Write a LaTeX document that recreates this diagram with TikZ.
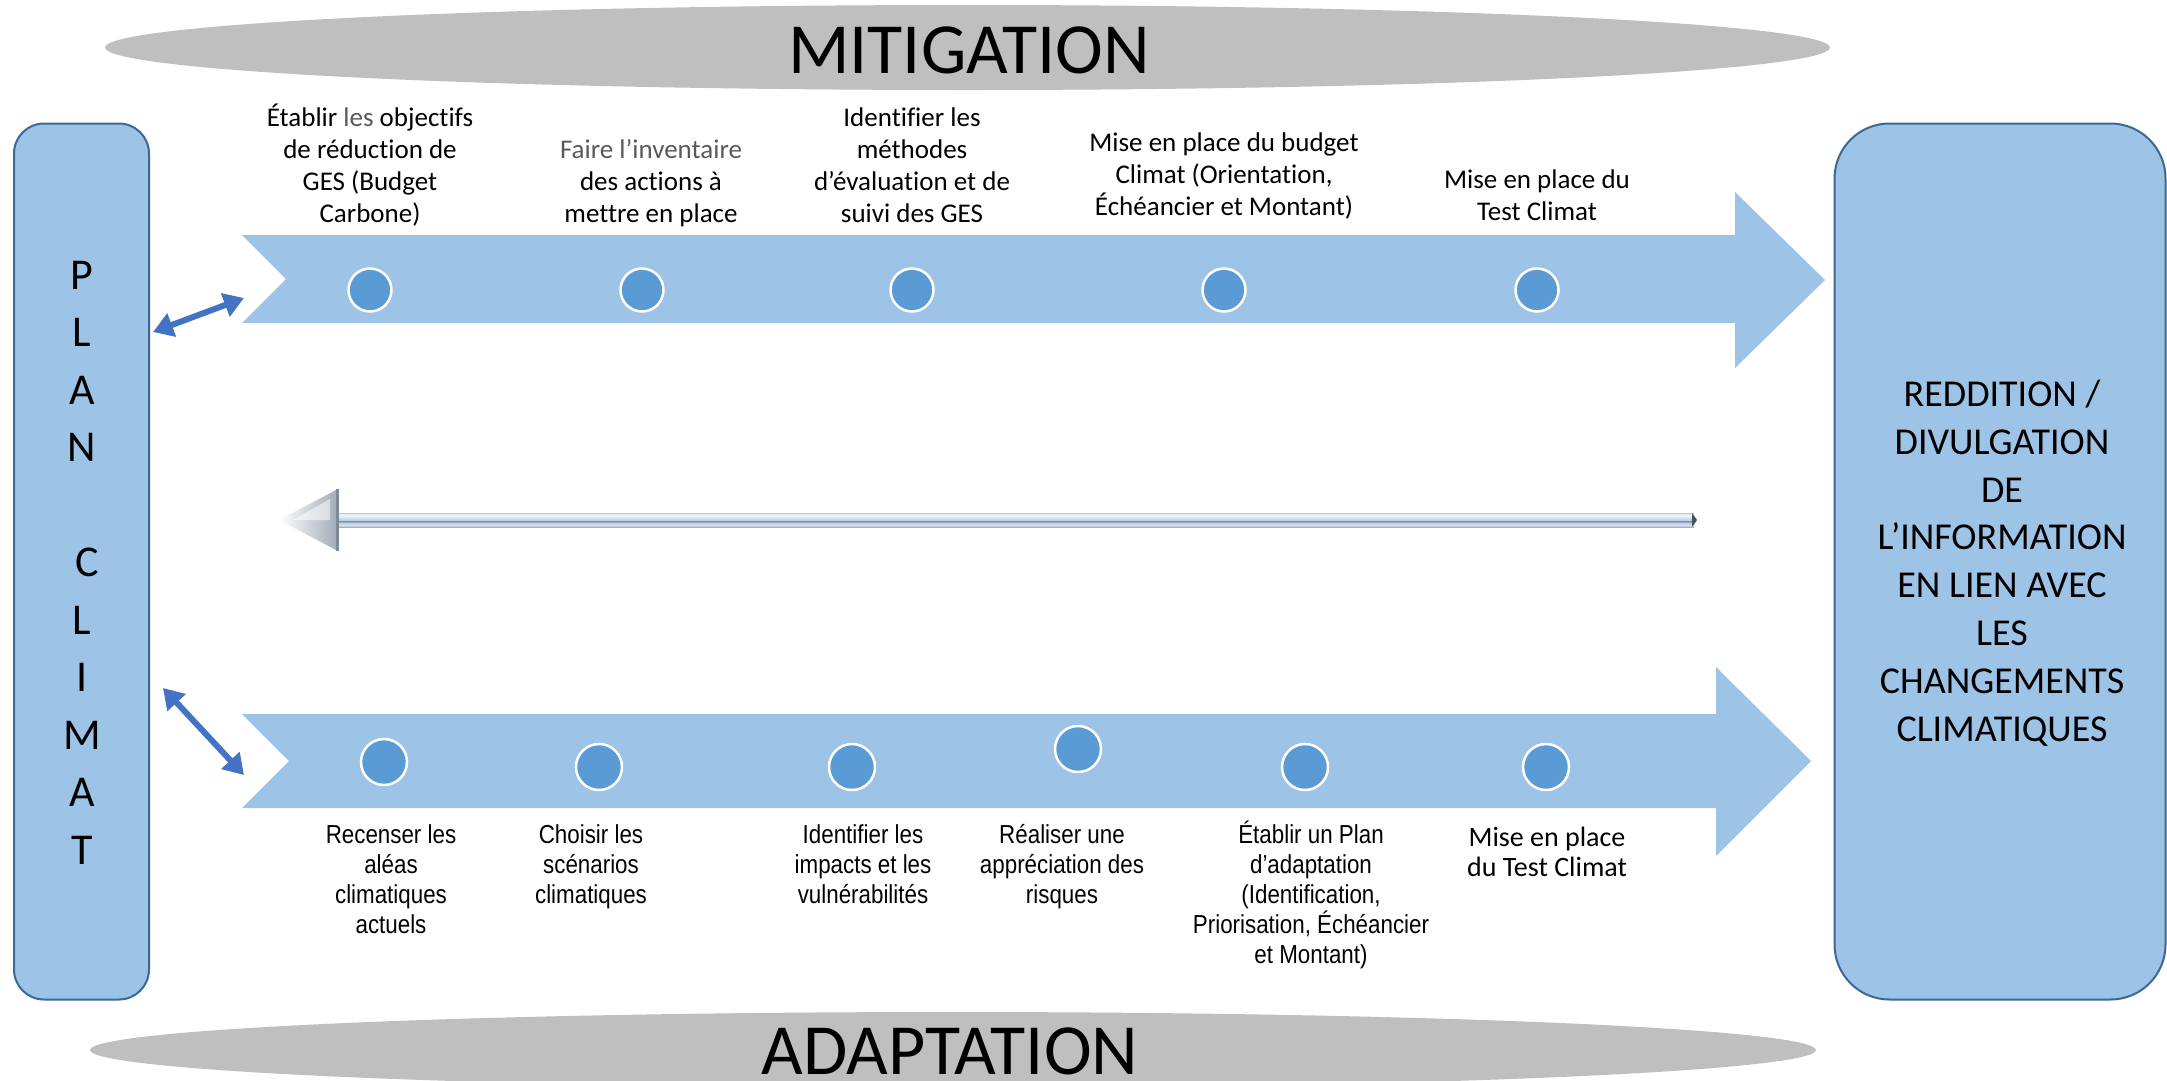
\documentclass[tikz,border=0pt]{standalone}
\usepackage{fontspec}
\setmainfont{Carlito}[Ligatures={TeX,NoCommon}]
\newfontfamily\arialn[FakeStretch=0.86]{Liberation Sans}
\usetikzlibrary{arrows.meta}
\definecolor{band}{HTML}{9DC3E6}
\definecolor{dotblue}{HTML}{5B9BD5}
\definecolor{boxline}{HTML}{3B6894}
\definecolor{arrblue}{HTML}{4472C4}
\definecolor{ellgray}{HTML}{BFBFBF}
\definecolor{softtext}{HTML}{595959}
\definecolor{shA}{HTML}{A9B3BE}
\definecolor{shB}{HTML}{D6E2EF}
\definecolor{shC}{HTML}{BBCFE6}
\definecolor{shD}{HTML}{6C7C8E}
\definecolor{shE}{HTML}{DCE6F2}
\definecolor{shF}{HTML}{F5F8FB}
\definecolor{shG}{HTML}{C2C8CF}
\definecolor{headdark}{HTML}{7D8A97}
\definecolor{headgray}{HTML}{A0ABB7}
\definecolor{capdark}{HTML}{44505C}
\pgfdeclareverticalshading{metalshaft}{100bp}{color(0bp)=(shA); color(25bp)=(shA); color(31bp)=(shB); color(41bp)=(shC); color(45bp)=(shD); color(50bp)=(shC); color(60bp)=(shE); color(70bp)=(shF); color(75bp)=(shG); color(100bp)=(shG)}
\begin{document}
\begin{tikzpicture}[x=1pt,y=-1pt,
  title/.style={font=\fontsize{72}{86}\selectfont, anchor=base, inner sep=0pt},
  sidebox/.style={fill=band, draw=boxline, line width=2pt, inner sep=0pt},
  dot/.style={circle, fill=dotblue, draw=white, line width=2.5pt, minimum size=43pt, inner sep=0pt},
  dotb/.style={dot, minimum size=46pt},
  toplab/.style={font=\fontsize{27}{32}\selectfont, align=center, anchor=base, inner sep=0pt},
  botlab/.style={font=\arialn\fontsize{26}{30}\selectfont, align=center, anchor=base, inner sep=0pt},
  botlabc/.style={font=\fontsize{28}{30}\selectfont, align=center, anchor=base, inner sep=0pt},
  sidetext/.style={align=center, anchor=base, inner sep=0pt},
  dbl/.style={draw=arrblue, line width=6pt, {Triangle[length=20pt,width=24pt]}-{Triangle[length=20pt,width=24pt]}}
]
\useasboundingbox (0,0) rectangle (2167,1080);
\clip (0,0) rectangle (2167,1080);

% grey ellipses with titles
\fill[ellgray] (967.5,47.5) ellipse [x radius=862.5pt, y radius=42.5pt];
\node[title] (mit) at (969,73) {MITIGATION};
\fill[ellgray] (953,1050) ellipse [x radius=863pt, y radius=38pt];
\node[title] (ada) at (950,1074) {ADAPTATION};

% side boxes
\node[sidebox, rounded corners=30pt, minimum width=135pt, minimum height=876pt] (plan) at (81.5,561.5) {};
\node[sidebox, rounded corners=55pt, minimum width=331pt, minimum height=876pt] (redd) at (2000,561.5) {};
\node[sidetext, font=\fontsize{44}{57.5}\selectfont] (plantxt) at (82,864) {P\\L\\A\\N\\[57.5pt]\ C\\L\\I\\M\\A\\T};
\node[sidetext, font=\fontsize{38}{47.8}\selectfont] (reddtxt) at (2002,741) {REDDITION /\\DIVULGATION\\DE\\L’INFORMATION\\EN LIEN AVEC\\LES\\CHANGEMENTS\\CLIMATIQUES};

% mitigation band
\fill[band] (242,235) -- (1735,235) -- (1735,192) -- (1825,280) -- (1735,368) -- (1735,323) -- (242,323) -- (286,279) -- cycle;
% adaptation band
\fill[band] (242,714) -- (1716,714) -- (1716,667) -- (1811,761) -- (1716,856) -- (1716,808) -- (242,808) -- (289,761) -- cycle;

% dots
\node[dot] (c1) at (370,290) {};
\node[dot] (c2) at (642,290) {};
\node[dot] (c3) at (912,290) {};
\node[dot] (c4) at (1224,290) {};
\node[dot] (c5) at (1537,290) {};
\node[dotb] (d1) at (384,762) {};
\node[dotb] (d2) at (599,767) {};
\node[dotb] (d3) at (852,767) {};
\node[dotb] (d4) at (1078,749) {};
\node[dotb] (d5) at (1305,767) {};
\node[dotb] (d6) at (1546,767) {};

% top labels (anchor = baseline of last line)
\node[toplab] (t1) at (370,222) {Établir {\color{softtext}les} objectifs\\de réduction de\\GES (Budget\\Carbone)};
\node[toplab] (t2) at (651,222) {{\color{softtext}Faire l'inventaire}\\des actions à\\mettre en place};
\node[toplab] (t3) at (912,222) {Identifier les\\méthodes\\d’évaluation et de\\suivi des GES};
\node[toplab] (t4) at (1224,215) {Mise en place du budget\\Climat (Orientation,\\Échéancier et Montant)};
\node[toplab] (t5) at (1537,220) {Mise en place du\\Test Climat};

% bottom labels
\node[botlab] (b1) at (391,933) {Recenser les\\aléas\\climatiques\\actuels};
\node[botlab] (b2) at (591,903) {Choisir les\\scénarios\\climatiques};
\node[botlab] (b3) at (863,903) {Identifier les\\impacts et les\\vulnérabilités};
\node[botlab] (b4) at (1062,903) {Réaliser une\\appréciation des\\risques};
\node[botlab] (b5) at (1311,963) {Établir un Plan\\d’adaptation\\(Identification,\\Priorisation, Échéancier\\et Montant)};
\node[botlabc] (b6) at (1547,876) {Mise en place\\du Test Climat};

% metallic return arrow
\coordinate (rtip) at (279,520);
\coordinate (rend) at (1697,520);
\shade[shading=metalshaft] (336,513) rectangle (1694,527);
\shade[left color=white, right color=headgray] (rtip) -- (338,489) -- (338,551) -- cycle;
\fill[white, opacity=0.55] (293,520) -- (330,499) -- (330,520) -- cycle;
\draw[headdark, line width=3pt] (337,489) -- (337,551);
\fill[capdark] (1692,513) -- (rend) -- (1692,527) -- cycle;

% double arrows between PLAN CLIMAT and the two bands
\coordinate (pm) at (153,332);
\coordinate (bm) at (244,298);
\coordinate (pa) at (163,688);
\coordinate (ba) at (244,775);
\draw[dbl] (pm) -- (bm);
\draw[dbl] (pa) -- (ba);
\end{tikzpicture}
\end{document}
